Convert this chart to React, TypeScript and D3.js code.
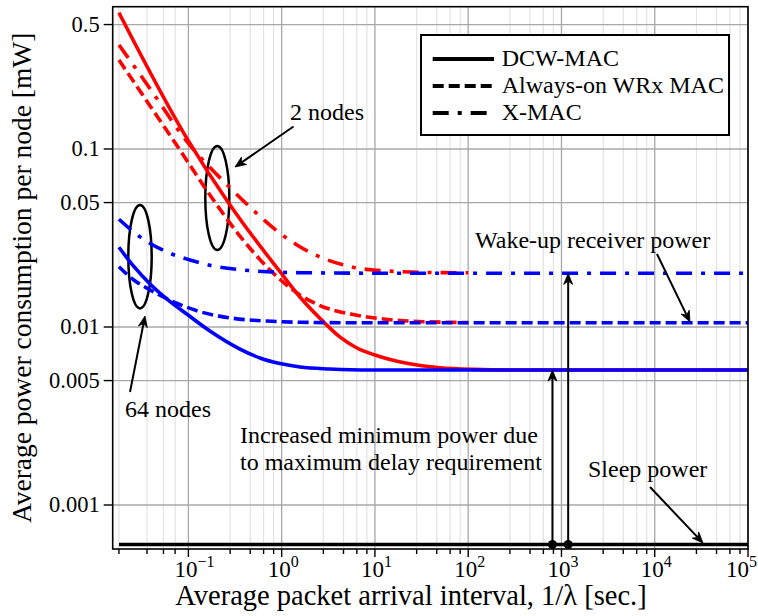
import React from 'react';
import * as d3 from 'd3';

// ---------------- data ----------------
// 2 nodes (red)
const RED_SOLID_X = [0.018, 0.1, 0.27, 0.357, 0.96, 1.57, 2.91, 4.2, 6.41, 10, 22, 50, 113, 360, 1e5];
const RED_SOLID_Y = [0.583, 0.111, 0.0497, 0.0404, 0.02045, 0.01474, 0.0105, 0.00879, 0.00762, 0.00696, 0.00625, 0.0059, 0.00578, 0.00573, 0.00573];
const RED_DASH_X = [0.018, 0.039, 0.081, 0.17, 0.357, 0.75, 1.57, 2.57, 5.85, 12.3, 33, 104, 1e5];
const RED_DASH_Y = [0.316, 0.174, 0.0988, 0.0552, 0.0324, 0.0209, 0.01513, 0.0132, 0.01175, 0.01109, 0.01071, 0.0106, 0.01057];
const RED_DASHDOT_X = [0.018, 0.039, 0.088, 0.268, 0.457, 0.813, 1.46, 2.57, 5.4, 9.6, 50, 1e5];
const RED_DASHDOT_Y = [0.384, 0.2174, 0.1172, 0.0619, 0.0472, 0.036, 0.0289, 0.02473, 0.02187, 0.0209, 0.0202, 0.02004];
// 64 nodes (blue)
const BLUE_SOLID_X = [0.018, 0.0257, 0.0388, 0.0585, 0.0959, 0.17, 0.357, 0.585, 0.959, 1.571, 3.29, 8.84, 1e5];
const BLUE_SOLID_Y = [0.02804, 0.02202, 0.01744, 0.01437, 0.01183, 0.0095, 0.00752, 0.0067, 0.00623, 0.00596, 0.00581, 0.00573, 0.00573];
const BLUE_DASH_X = [0.018, 0.026, 0.039, 0.075, 0.133, 0.303, 0.69, 1.57, 5.4, 1e5];
const BLUE_DASH_Y = [0.0218, 0.01837, 0.01614, 0.01359, 0.01219, 0.01119, 0.0108, 0.01063, 0.01057, 0.01057];
const BLUE_DASHDOT_X = [0.018, 0.03, 0.058, 0.104, 0.185, 0.388, 0.69, 1.57, 18.5, 1e5];
const BLUE_DASHDOT_Y = [0.0403, 0.0322, 0.02648, 0.02379, 0.02201, 0.0209, 0.02045, 0.02019, 0.02004, 0.02004];

const SLEEP_POWER = 0.0006;
const SLEEP_RANGE = [0.018, 1e5];
const DELAY_X = [800, 1180];
const DELAY_TOP = [0.00573, 0.02];
const RED_MERGE_X = 100; // beyond this the red curves lie under the blue ones

const X_DOMAIN = [0.01543, 1e5];
const Y_DOMAIN = [0.000566, 0.63];
const X_MAJOR = [0.1, 1, 10, 100, 1000, 10000, 100000];
const X_MAJOR_EXP = ['−1', '0', '1', '2', '3', '4', '5'];
const X_MINOR_FIRST = [0.018, 0.036, 0.054, 0.072];
const X_MINOR_MULT = [2.8, 4.6, 6.4, 8.2];
const X_MINOR_DECADES = [0.1, 1, 10, 100, 1000, 10000];
const Y_TICKS = [0.001, 0.005, 0.01, 0.05, 0.1, 0.5];
const Y_TICK_LABELS = ['0.001', '0.005', '0.01', '0.05', '0.1', '0.5'];

const LEGEND_LABELS = ['DCW-MAC', 'Always-on WRx MAC', 'X-MAC'];

// ---------------- layout ----------------
const W = 758, H = 616;
const P = { left: 112.7, right: 748, top: 6.7, bottom: 549 };
const FONT = '"Liberation Serif", "Times New Roman", serif';
const RED = '#ff0000', BLUE = '#0000ff';
const DASH = '11,5';
const DASHDOT = '16,9,4,9';
const LW = 3.6;

function Arrow({ x1, y1, x2, y2, w = 2 }: { x1: number; y1: number; x2: number; y2: number; w?: number }) {
  const dx = x2 - x1, dy = y2 - y1;
  const L = Math.hypot(dx, dy);
  const ux = dx / L, uy = dy / L;
  const hl = 11, hw = 4.5;
  const bx = x2 - ux * hl, by = y2 - uy * hl;
  const px = -uy, py = ux;
  const ix = x2 - ux * hl * 0.7, iy = y2 - uy * hl * 0.7;
  const head = `M${x2},${y2} L${bx + px * hw},${by + py * hw} L${ix},${iy} L${bx - px * hw},${by - py * hw} Z`;
  return (
    <g>
      <line x1={x1} y1={y1} x2={ix} y2={iy} stroke="#000" strokeWidth={w} />
      <path d={head} fill="#000" stroke="#000" strokeWidth={0.8} strokeLinejoin="miter" />
    </g>
  );
}

export default function App() {
  const x = d3.scaleLog().domain(X_DOMAIN).range([P.left, P.right]);
  const y = d3.scaleLog().domain(Y_DOMAIN).range([P.bottom, P.top]);

  const path = (xs: number[], ys: number[]) =>
    d3.line<number>()
      .x((_, i) => x(xs[i]))
      .y((_, i) => y(ys[i]))
      .curve(d3.curveMonotoneX)(xs) || '';

  const series = [
    { xs: RED_DASHDOT_X, ys: RED_DASHDOT_Y, c: RED, d: DASHDOT, clip: 'redclip' },
    { xs: RED_DASH_X, ys: RED_DASH_Y, c: RED, d: DASH, clip: 'redclip' },
    { xs: RED_SOLID_X, ys: RED_SOLID_Y, c: RED, d: undefined, clip: 'plotclip' },
    { xs: BLUE_DASHDOT_X, ys: BLUE_DASHDOT_Y, c: BLUE, d: DASHDOT, clip: 'plotclip' },
    { xs: BLUE_DASH_X, ys: BLUE_DASH_Y, c: BLUE, d: DASH, clip: 'plotclip' },
    { xs: BLUE_SOLID_X, ys: BLUE_SOLID_Y, c: BLUE, d: undefined, clip: 'plotclip' },
  ];

  const minor: number[] = [...X_MINOR_FIRST];
  X_MINOR_DECADES.forEach((d) => X_MINOR_MULT.forEach((m) => minor.push(d * m)));

  const legendDash = [undefined, DASH, DASHDOT];

  return (
    <svg width={W} height={H} style={{ position: 'absolute', left: 0, top: 0, background: '#fff' }} fontFamily={FONT}>
      <defs>
        <clipPath id="plotclip">
          <rect x={P.left} y={P.top} width={P.right - P.left} height={P.bottom - P.top} />
        </clipPath>
        <clipPath id="redclip">
          <rect x={P.left} y={P.top} width={x(RED_MERGE_X) - P.left} height={P.bottom - P.top} />
        </clipPath>
      </defs>
      <rect x={0} y={0} width={W} height={H} fill="#fff" />
      {/* grid */}
      {minor.map((v, i) => (
        <line key={'mg' + i} x1={x(v)} x2={x(v)} y1={P.top} y2={P.bottom} stroke="#e3e3e3" strokeWidth={1.2} />
      ))}
      {X_MAJOR.map((v, i) => (
        <line key={'xg' + i} x1={x(v)} x2={x(v)} y1={P.top} y2={P.bottom} stroke="#a8a8a8" strokeWidth={1.3} />
      ))}
      {Y_TICKS.map((v, i) => (
        <line key={'yg' + i} x1={P.left} x2={P.right} y1={y(v)} y2={y(v)} stroke="#a8a8a8" strokeWidth={1.3} />
      ))}

      {/* ellipses */}
      <ellipse cx={217.3} cy={198} rx={12} ry={52} fill="none" stroke="#000" strokeWidth={2.5} />
      <ellipse cx={140} cy={256.7} rx={11.7} ry={51.7} fill="none" stroke="#000" strokeWidth={2.5} />

      {/* curves */}
      {series.map((s, i) => (
        <path key={'s' + i} d={path(s.xs, s.ys)} fill="none" stroke={s.c} strokeWidth={LW}
          strokeDasharray={s.d} clipPath={`url(#${s.clip})`} />
      ))}
      <line x1={x(SLEEP_RANGE[0])} x2={x(SLEEP_RANGE[1])} y1={y(SLEEP_POWER)} y2={y(SLEEP_POWER)} stroke="#000" strokeWidth={3.6} />

      {/* delay arrows */}
      {DELAY_X.map((v, i) => (
        <g key={'da' + i}>
          <Arrow x1={x(v)} y1={y(SLEEP_POWER)} x2={x(v)} y2={y(DELAY_TOP[i])} w={2} />
          <circle cx={x(v)} cy={y(SLEEP_POWER)} r={4.5} fill="#000" />
        </g>
      ))}

      {/* annotation arrows */}
      <Arrow x1={293.5} y1={126.5} x2={235} y2={167} />
      <Arrow x1={130} y1={392} x2={145} y2={316} />
      <Arrow x1={657} y1={254} x2={690} y2={322} />
      <Arrow x1={650} y1={487} x2={703} y2={543} />

      {/* annotation text */}
      <g fontSize={24} fill="#000">
        <text x={290} y={120}>2 nodes</text>
        <text x={125} y={417}>64 nodes</text>
        <text x={475} y={248}>Wake-up receiver power</text>
        <text x={240} y={443}>Increased minimum power due</text>
        <text x={240} y={470}>to maximum delay requirement</text>
        <text x={588} y={477}>Sleep power</text>
      </g>

      {/* frame */}
      <rect x={P.left} y={P.top} width={P.right - P.left} height={P.bottom - P.top} fill="none" stroke="#000" strokeWidth={1.6} />

      {/* x ticks */}
      {minor.map((v, i) => (
        <line key={'mt' + i} x1={x(v)} x2={x(v)} y1={P.bottom} y2={P.bottom + 5} stroke="#000" strokeWidth={1.4} />
      ))}
      {X_MAJOR.map((v, i) => (
        <g key={'xt' + i}>
          <line x1={x(v)} x2={x(v)} y1={P.bottom} y2={P.bottom + 8} stroke="#000" strokeWidth={1.4} />
          <text x={Math.min(x(v) - 14, 726)} y={577} fontSize={23}>
            <tspan>10</tspan>
            <tspan dy={-10} fontSize={16}>{X_MAJOR_EXP[i]}</tspan>
          </text>
        </g>
      ))}
      {/* y ticks */}
      {Y_TICKS.map((v, i) => (
        <g key={'yt' + i}>
          <line x1={P.left - 9} x2={P.left} y1={y(v)} y2={y(v)} stroke="#000" strokeWidth={1.4} />
          <text x={P.left - 13} y={y(v) + 7} fontSize={22.5} textAnchor="end">{Y_TICK_LABELS[i]}</text>
        </g>
      ))}

      {/* axis titles */}
      <text x={411} y={605} fontSize={28.5} textAnchor="middle">Average packet arrival interval, 1/λ [sec.]</text>
      <text transform={`translate(31,${(P.top + P.bottom) / 2}) rotate(-90)`} fontSize={27.5} textAnchor="middle">
        Average power consumption per node [mW]
      </text>

      {/* legend */}
      <rect x={421} y={35} width={308} height={100} fill="#fff" stroke="#000" strokeWidth={2} />
      {LEGEND_LABELS.map((lab, i) => {
        const ly = 59 + i * 27;
        return (
          <g key={'lg' + i}>
            <line x1={432.7} x2={494} y1={ly} y2={ly} stroke="#000" strokeWidth={4} strokeDasharray={legendDash[i]} />
            <text x={501.7} y={ly + 7} fontSize={24}>{lab}</text>
          </g>
        );
      })}
    </svg>
  );
}
